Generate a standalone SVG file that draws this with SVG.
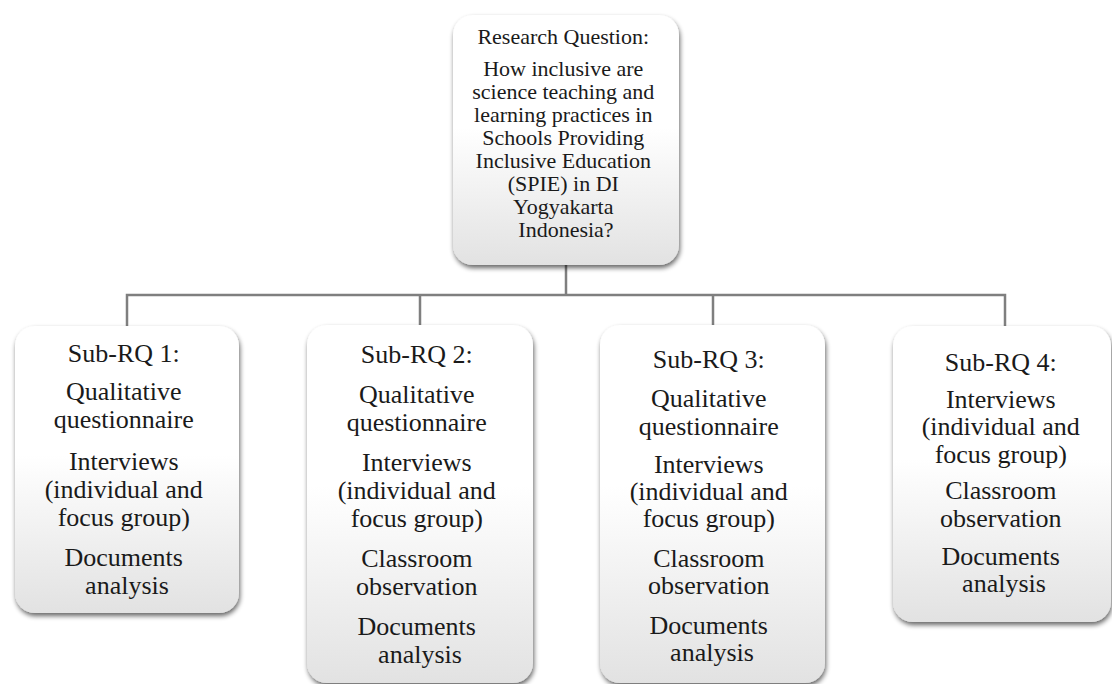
<svg xmlns="http://www.w3.org/2000/svg" width="1112" height="684" viewBox="0 0 1112 684">
  <defs>
    <linearGradient id="boxFill" x1="0" y1="0" x2="0" y2="1">
      <stop offset="0" stop-color="#ffffff"/>
      <stop offset="0.45" stop-color="#ffffff"/>
      <stop offset="1" stop-color="#e2e2e2"/>
    </linearGradient>
    <filter id="shadow" x="-10%" y="-10%" width="120%" height="120%">
      <feGaussianBlur in="SourceAlpha" stdDeviation="2.5"/>
      <feOffset dx="1" dy="3" result="blur"/>
      <feComponentTransfer><feFuncA type="linear" slope="0.6"/></feComponentTransfer>
      <feMerge><feMergeNode/><feMergeNode in="SourceGraphic"/></feMerge>
    </filter>
    <style>
      .box { fill: url(#boxFill); filter: url(#shadow); }
      .link { fill: none; stroke: #7f7f7f; stroke-width: 2.5; }
      text { fill: #1a1a1a; text-anchor: middle; }
      .main { font-size: 22px; }
      .sub { font-size: 26px; }
    </style>
  </defs>
  <rect width="1112" height="684" fill="#ffffff"/>

  <!-- connectors -->
  <g id="connectors">
    <path class="link" d="M566 265 V295"/>
    <path class="link" d="M127 326 V295 H1005 V326"/>
    <path class="link" d="M420 295 V325"/>
    <path class="link" d="M713 295 V325"/>
  </g>

  <!-- main research question -->
  <g id="research-question">
    <rect class="box" x="453" y="15" width="226" height="250" rx="20"/>
    <text class="main" font-family="'Liberation Serif', 'Times New Roman', Times, serif">
      <tspan x="566" y="44">Research Question:</tspan>
      <tspan x="566" y="76">How inclusive are</tspan>
      <tspan x="566" y="99">science teaching and</tspan>
      <tspan x="566" y="122">learning practices in</tspan>
      <tspan x="566" y="145">Schools Providing</tspan>
      <tspan x="566" y="168">Inclusive Education</tspan>
      <tspan x="566" y="191">(SPIE) in DI</tspan>
      <tspan x="566" y="214">Yogyakarta</tspan>
      <tspan x="566" y="237">Indonesia?</tspan>
    </text>
  </g>

  <!-- sub research question 1 -->
  <g id="sub-rq-1">
    <rect class="box" x="15" y="326" width="224" height="287" rx="20"/>
    <text class="sub" font-family="'Liberation Serif', 'Times New Roman', Times, serif">
      <tspan x="127" y="362">Sub-RQ 1:</tspan>
      <tspan x="127" y="400">Qualitative</tspan>
      <tspan x="127" y="428">questionnaire</tspan>
      <tspan x="127" y="470">Interviews</tspan>
      <tspan x="127" y="498">(individual and</tspan>
      <tspan x="127" y="526">focus group)</tspan>
      <tspan x="127" y="566">Documents</tspan>
      <tspan x="127" y="594">analysis</tspan>
    </text>
  </g>

  <!-- sub research question 2 -->
  <g id="sub-rq-2">
    <rect class="box" x="307" y="325" width="226" height="358" rx="20"/>
    <text class="sub" font-family="'Liberation Serif', 'Times New Roman', Times, serif">
      <tspan x="420" y="363">Sub-RQ 2:</tspan>
      <tspan x="420" y="403">Qualitative</tspan>
      <tspan x="420" y="431">questionnaire</tspan>
      <tspan x="420" y="471">Interviews</tspan>
      <tspan x="420" y="499">(individual and</tspan>
      <tspan x="420" y="527">focus group)</tspan>
      <tspan x="420" y="567">Classroom</tspan>
      <tspan x="420" y="595">observation</tspan>
      <tspan x="420" y="635">Documents</tspan>
      <tspan x="420" y="663">analysis</tspan>
    </text>
  </g>

  <!-- sub research question 3 -->
  <g id="sub-rq-3">
    <rect class="box" x="600" y="325" width="225" height="358" rx="20"/>
    <text class="sub" font-family="'Liberation Serif', 'Times New Roman', Times, serif">
      <tspan x="712" y="368">Sub-RQ 3:</tspan>
      <tspan x="712" y="407">Qualitative</tspan>
      <tspan x="712" y="435">questionnaire</tspan>
      <tspan x="712" y="473">Interviews</tspan>
      <tspan x="712" y="500">(individual and</tspan>
      <tspan x="712" y="527">focus group)</tspan>
      <tspan x="712" y="567">Classroom</tspan>
      <tspan x="712" y="594">observation</tspan>
      <tspan x="712" y="634">Documents</tspan>
      <tspan x="712" y="661">analysis</tspan>
    </text>
  </g>

  <!-- sub research question 4 -->
  <g id="sub-rq-4">
    <rect class="box" x="893" y="326" width="218" height="296" rx="20"/>
    <text class="sub" font-family="'Liberation Serif', 'Times New Roman', Times, serif">
      <tspan x="1004" y="371">Sub-RQ 4:</tspan>
      <tspan x="1004" y="408">Interviews</tspan>
      <tspan x="1004" y="435">(individual and</tspan>
      <tspan x="1004" y="463">focus group)</tspan>
      <tspan x="1004" y="499">Classroom</tspan>
      <tspan x="1004" y="527">observation</tspan>
      <tspan x="1004" y="565">Documents</tspan>
      <tspan x="1004" y="592">analysis</tspan>
    </text>
  </g>
</svg>
